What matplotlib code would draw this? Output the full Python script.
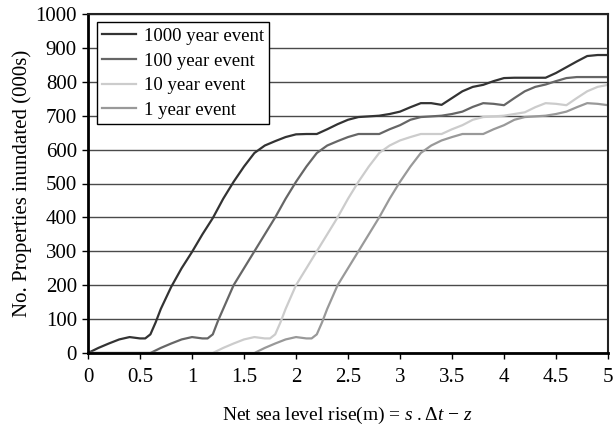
import matplotlib
matplotlib.use("Agg")
import matplotlib.pyplot as plt

plt.rcParams["font.family"] = ["Liberation Serif", "DejaVu Serif"]
plt.rcParams["mathtext.fontset"] = "custom"
plt.rcParams["mathtext.rm"] = "Liberation Serif"
plt.rcParams["mathtext.it"] = "Liberation Serif:italic"

# 1000 year event
x1000 = [0, 0.1, 0.2, 0.3, 0.4, 0.5, 0.55, 0.6, 0.65, 0.7, 0.8, 0.9, 1.0, 1.1, 1.2,
         1.3, 1.4, 1.5, 1.6, 1.7, 1.8, 1.9, 2.0, 2.1, 2.2, 2.3, 2.4, 2.5, 2.6, 2.7,
         2.8, 2.9, 3.0, 3.1, 3.2, 3.3, 3.4, 3.5, 3.6, 3.7, 3.8, 3.9, 4.0, 4.1, 4.2,
         4.3, 4.4, 4.5, 4.6, 4.7, 4.8, 4.9, 5.0]
y1000 = [0, 15, 28, 40, 47, 43, 43, 55, 90, 130, 195, 250, 298, 350, 398,
         455, 505, 550, 590, 612, 625, 637, 645, 646, 646, 660, 675, 688, 696, 698,
         700, 705, 712, 725, 737, 737, 732, 752, 772, 785, 791, 802, 811, 812, 812,
         812, 812, 826, 843, 860, 876, 879, 879]

# 100 year event
x100 = [0, 0.6, 0.7, 0.8, 0.9, 1.0, 1.1, 1.15, 1.2, 1.25, 1.3, 1.4, 1.5, 1.6, 1.7,
        1.8, 1.9, 2.0, 2.1, 2.2, 2.3, 2.4, 2.5, 2.6, 2.7, 2.8, 2.9, 3.0, 3.1, 3.2,
        3.3, 3.4, 3.5, 3.6, 3.7, 3.8, 3.9, 4.0, 4.1, 4.2, 4.3, 4.4, 4.5, 4.6, 4.7,
        4.8, 4.9, 5.0]
y100 = [0, 0, 15, 28, 40, 47, 43, 43, 55, 95, 130, 200, 250, 300, 350,
        400, 455, 505, 550, 590, 612, 625, 637, 646, 646, 646, 660, 672, 688, 696,
        698, 700, 705, 712, 726, 737, 735, 731, 752, 772, 785, 792, 802, 811, 814,
        814, 814, 814]

# 10 year event
x10 = [0, 1.2, 1.3, 1.4, 1.5, 1.6, 1.7, 1.75, 1.8, 1.85, 1.9, 2.0, 2.1, 2.2, 2.3,
       2.4, 2.5, 2.6, 2.7, 2.8, 2.9, 3.0, 3.1, 3.2, 3.3, 3.4, 3.5, 3.6, 3.7, 3.8,
       3.9, 4.0, 4.1, 4.2, 4.3, 4.4, 4.5, 4.6, 4.7, 4.8, 4.9, 5.0]
y10 = [0, 0, 15, 28, 40, 47, 43, 43, 55, 90, 130, 200, 250, 300, 350,
       400, 455, 505, 550, 590, 612, 627, 637, 646, 646, 646, 660, 672, 688, 696,
       698, 700, 705, 710, 725, 737, 735, 731, 752, 772, 785, 791]

# 1 year event
x1 = [0, 1.6, 1.7, 1.8, 1.9, 2.0, 2.1, 2.15, 2.2, 2.25, 2.3, 2.4, 2.5, 2.6, 2.7,
      2.8, 2.9, 3.0, 3.1, 3.2, 3.3, 3.4, 3.5, 3.6, 3.7, 3.8, 3.9, 4.0, 4.1, 4.2,
      4.3, 4.4, 4.5, 4.6, 4.7, 4.8, 4.9, 5.0]
y1 = [0, 0, 15, 28, 40, 47, 43, 43, 55, 90, 130, 200, 250, 300, 350,
      400, 455, 505, 550, 590, 612, 627, 637, 646, 646, 646, 660, 672, 688, 696,
      698, 700, 705, 712, 725, 737, 735, 731]

labels = ["1000 year event", "100 year event", "10 year event", "1 year event"]
colors = ["#333333", "#666666", "#cccccc", "#999999"]

fig = plt.figure(figsize=(6.13, 4.25), dpi=100)
ax = fig.add_axes([88 / 613, 1 - 353 / 425, 520 / 613, 339 / 425])

series = [(x1000, y1000), (x100, y100), (x10, y10), (x1, y1)]
for (xs, ys), lab, col in zip(series, labels, colors):
    ax.plot(xs, ys, color=col, lw=1.6, label=lab)

ax.set_xlim(0, 5)
ax.set_ylim(0, 1000)
ax.set_xticks([0, 0.5, 1, 1.5, 2, 2.5, 3, 3.5, 4, 4.5, 5])
ax.set_xticklabels(["0", "0.5", "1", "1.5", "2", "2.5", "3", "3.5", "4", "4.5", "5"])
ax.set_yticks(range(0, 1001, 100))
ax.yaxis.grid(True, color="#4a4a4a", lw=1.0)
ax.set_axisbelow(True)
ax.tick_params(direction="out", length=4, width=1, labelsize=15)
ax.tick_params(axis="x", pad=7)
ax.tick_params(axis="y", pad=4)

for side in ["left", "bottom"]:
    ax.spines[side].set_linewidth(2)
for side in ["top", "right"]:
    ax.spines[side].set_linewidth(1.5)
    ax.spines[side].set_color("#222222")

ax.set_ylabel("No. Properties inundated (000s)", fontsize=15)
ax.yaxis.set_label_coords(-0.108, 0.5)
ax.set_xlabel(r"Net sea level rise(m) = $s\ .\Delta t\,-\,z$", fontsize=14, labelpad=13)

leg = ax.legend(loc="upper left", bbox_to_anchor=(0.017, 0.976), borderaxespad=0,
                fontsize=13.5, frameon=True, fancybox=False, edgecolor="black",
                framealpha=1, handlelength=1.8, handletextpad=0.4,
                labelspacing=0.4, borderpad=0.3)
leg.get_frame().set_linewidth(1.0)

fig.savefig("out.png", dpi=100)
